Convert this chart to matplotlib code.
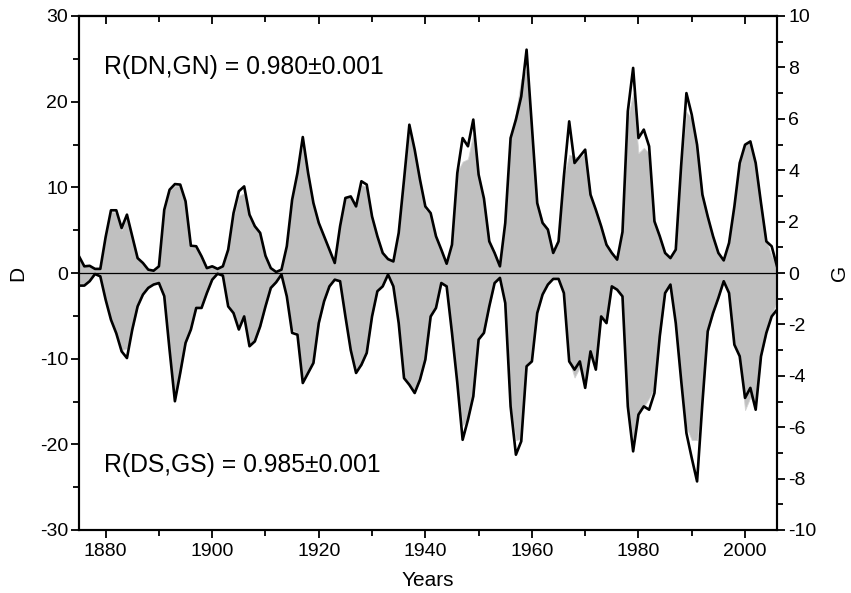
import numpy as np
import matplotlib
matplotlib.use("Agg")
from matplotlib import pyplot as plt
from matplotlib.ticker import MultipleLocator

years = np.arange(1875, 2007)

# gray fill, left axis D (north / south)
DN = [2.0, 0.8, 0.8, 0.5, 0.5, 4.0, 7.2, 7.0, 5.0, 6.6,
      4.2, 1.8, 1.2, 0.4, 0.3, 0.8, 7.2, 9.6, 10.2, 10.2,
      8.3, 3.0, 3.0, 2.0, 0.6, 0.8, 0.5, 0.8, 2.8, 6.6,
      9.0, 9.3, 6.4, 5.6, 4.8, 2.0, 0.6, 0.1, 0.4, 3.1,
      8.4, 11.7, 15.0, 11.5, 8.0, 5.8, 4.3, 2.7, 1.2, 5.5,
      8.9, 9.0, 7.7, 10.3, 10.0, 6.5, 4.2, 2.3, 1.7, 1.4,
      4.7, 10.9, 16.8, 14.0, 10.6, 7.4, 6.9, 4.3, 2.7, 1.1,
      3.3, 11.8, 13.0, 13.3, 16.3, 11.5, 8.6, 3.8, 2.4, 0.9,
      5.8, 16.0, 18.7, 22.6, 23.8, 16.8, 8.2, 6.0, 5.2, 2.4,
      3.7, 11.2, 13.8, 13.6, 13.5, 14.0, 9.2, 7.4, 5.5, 3.4,
      2.4, 1.5, 4.8, 18.0, 21.0, 14.0, 14.6, 14.0, 6.0, 4.3,
      2.4, 1.7, 2.8, 12.4, 18.8, 18.0, 14.8, 9.2, 6.6, 4.3,
      2.3, 1.5, 3.5, 7.8, 12.8, 15.2, 15.4, 12.8, 8.1, 3.8,
      2.0, 0.8]
DS = [-1.2, -1.3, -0.9, -0.1, -0.4, -3.1, -5.5, -7.1, -9.0, -8.8,
      -6.6, -3.9, -2.5, -1.7, -1.3, -1.2, -2.7, -9.0, -14.8, -11.6,
      -8.2, -6.5, -4.1, -4.0, -2.3, -0.8, -0.1, -0.4, -3.6, -4.9,
      -6.2, -5.0, -8.3, -8.0, -6.3, -3.9, -1.8, -1.1, -0.2, -2.7,
      -6.6, -7.0, -12.8, -11.6, -10.4, -5.9, -3.3, -1.6, -0.8, -1.0,
      -5.0, -9.0, -11.3, -10.8, -9.3, -5.0, -2.1, -1.5, -0.2, -1.6,
      -5.8, -12.1, -13.0, -14.0, -12.4, -10.0, -5.2, -4.0, -1.2, -1.6,
      -7.0, -12.8, -17.8, -17.0, -14.4, -7.6, -7.0, -3.9, -1.2, -0.6,
      -3.6, -15.5, -19.5, -19.4, -10.8, -10.2, -4.6, -2.5, -1.3, -0.7,
      -0.7, -2.3, -10.2, -12.2, -11.0, -13.0, -9.3, -11.2, -5.1, -5.8,
      -1.6, -2.0, -2.8, -15.4, -19.5, -16.3, -15.6, -14.6, -13.4, -7.4,
      -2.3, -1.4, -5.9, -12.4, -18.0, -19.5, -19.5, -15.0, -6.8, -4.7,
      -2.9, -1.0, -2.3, -8.4, -9.8, -16.0, -14.5, -15.5, -9.7, -7.0,
      -5.0, -3.2]

# black line, right axis G (north / south)
GN = [0.65, 0.26, 0.28, 0.16, 0.16, 1.4, 2.44, 2.44, 1.75, 2.27,
      1.43, 0.58, 0.39, 0.13, 0.09, 0.26, 2.46, 3.24, 3.46, 3.44,
      2.79, 1.06, 1.04, 0.65, 0.19, 0.26, 0.16, 0.26, 0.91, 2.33,
      3.18, 3.37, 2.27, 1.82, 1.56, 0.67, 0.19, 0.04, 0.13, 1.04,
      2.85, 3.89, 5.29, 3.89, 2.72, 1.95, 1.43, 0.91, 0.39, 1.82,
      2.92, 2.98, 2.59, 3.57, 3.44, 2.2, 1.43, 0.78, 0.54, 0.45,
      1.56, 3.63, 5.77, 4.8, 3.63, 2.59, 2.33, 1.43, 0.91, 0.36,
      1.1, 3.89, 5.25, 4.93, 5.97, 3.83, 2.9, 1.23, 0.78, 0.26,
      1.95, 5.25, 5.97, 6.87, 8.69, 5.71, 2.72, 1.95, 1.69, 0.78,
      1.23, 3.76, 5.9, 4.28, 4.54, 4.8, 3.05, 2.46, 1.82, 1.1,
      0.78, 0.52, 1.6, 6.29, 7.98, 5.25, 5.58, 4.93, 2.01, 1.43,
      0.78, 0.58, 0.91, 4.15, 7.0, 6.16, 4.99, 3.05, 2.2, 1.43,
      0.78, 0.49, 1.17, 2.59, 4.28, 4.99, 5.12, 4.28, 2.72, 1.23,
      1.04, 0.26]
GS = [-0.49, -0.49, -0.32, -0.04, -0.13, -1.04, -1.82, -2.35, -3.05, -3.31,
      -2.2, -1.3, -0.84, -0.58, -0.45, -0.39, -0.9, -3.0, -4.99, -3.89,
      -2.72, -2.2, -1.36, -1.36, -0.78, -0.26, -0.03, -0.1, -1.3, -1.56,
      -2.2, -1.69, -2.85, -2.66, -2.08, -1.3, -0.58, -0.36, -0.06, -0.91,
      -2.33, -2.4, -4.28, -3.89, -3.5, -1.95, -1.1, -0.52, -0.26, -0.32,
      -1.69, -3.0, -3.89, -3.57, -3.11, -1.69, -0.71, -0.52, -0.06, -0.52,
      -1.95, -4.09, -4.35, -4.67, -4.15, -3.37, -1.69, -1.36, -0.39, -0.52,
      -2.33, -4.28, -6.49, -5.71, -4.8, -2.59, -2.33, -1.3, -0.39, -0.19,
      -1.17, -5.19, -7.07, -6.55, -3.63, -3.44, -1.56, -0.84, -0.45, -0.23,
      -0.23, -0.78, -3.44, -3.76, -3.44, -4.47, -3.05, -3.76, -1.69, -1.95,
      -0.52, -0.65, -0.91, -5.19, -6.94, -5.51, -5.19, -5.32, -4.67, -2.46,
      -0.78, -0.45, -1.95, -4.15, -6.23, -7.2, -8.11, -5.06, -2.27, -1.56,
      -0.97, -0.32, -0.78, -2.79, -3.24, -4.86, -4.47, -5.32, -3.24, -2.33,
      -1.69, -1.43]

plt.rcParams['font.family'] = ['Liberation Sans', 'DejaVu Sans']
plt.rcParams['axes.unicode_minus'] = False

fig = plt.figure(figsize=(8.51, 5.93), dpi=100)
ax = fig.add_axes([79 / 851, 1 - 530 / 593, (777 - 79) / 851, (530 - 16) / 593])
ax2 = ax.twinx()

ax.fill_between(years, 0, DN, color='#c0c0c0', lw=0.6, edgecolor='#d4d4d4')
ax.fill_between(years, 0, DS, color='#c0c0c0', lw=0.6, edgecolor='#d4d4d4')
ax.axhline(0, color='black', lw=0.9)

ax2.plot(years, GN, color='black', lw=1.9)
ax2.plot(years, GS, color='black', lw=1.9)

ax.set_xlim(1875, 2006)
ax.set_ylim(-30, 30)
ax2.set_ylim(-10, 10)

ax.xaxis.set_major_locator(MultipleLocator(20))
ax.xaxis.set_minor_locator(MultipleLocator(10))
ax.yaxis.set_major_locator(MultipleLocator(10))
ax.yaxis.set_minor_locator(MultipleLocator(5))
ax2.yaxis.set_major_locator(MultipleLocator(2))
ax2.yaxis.set_minor_locator(MultipleLocator(1))

tick_kw = dict(width=1.3, labelsize=14)
ax.tick_params(axis='x', which='major', direction='out', length=6, top=False, pad=3, **tick_kw)
ax.tick_params(axis='x', which='minor', direction='out', length=4, top=False, width=1.3)
ax.tick_params(axis='y', which='major', direction='out', length=6, right=False, pad=2, **tick_kw)
ax.tick_params(axis='y', which='minor', direction='out', length=4, right=False, width=1.3)
ax2.tick_params(axis='y', which='major', direction='out', length=6, pad=2, **tick_kw)
ax2.tick_params(axis='y', which='minor', direction='out', length=4, width=1.3)

top = ax.secondary_xaxis('top')
top.xaxis.set_major_locator(MultipleLocator(20))
top.xaxis.set_minor_locator(MultipleLocator(10))
top.tick_params(which='major', direction='in', length=6, width=1.3, labeltop=False)
top.tick_params(which='minor', direction='in', length=4, width=1.3)

for a in (ax, ax2, top):
    for s in a.spines.values():
        s.set_linewidth(1.5)

ax.set_xlabel('Years', fontsize=15, labelpad=8)
ax.set_ylabel('D', fontsize=15, labelpad=9)
ax2.set_ylabel('G', fontsize=15, labelpad=10, rotation=90)

ax.text(1879.6, 24.0, 'R(DN,GN) = 0.980\u00b10.001', fontsize=17.8, va='center', ha='left')
ax.text(1879.6, -22.4, 'R(DS,GS) = 0.985\u00b10.001', fontsize=17.8, va='center', ha='left')

fig.savefig('out.png', dpi=100)
